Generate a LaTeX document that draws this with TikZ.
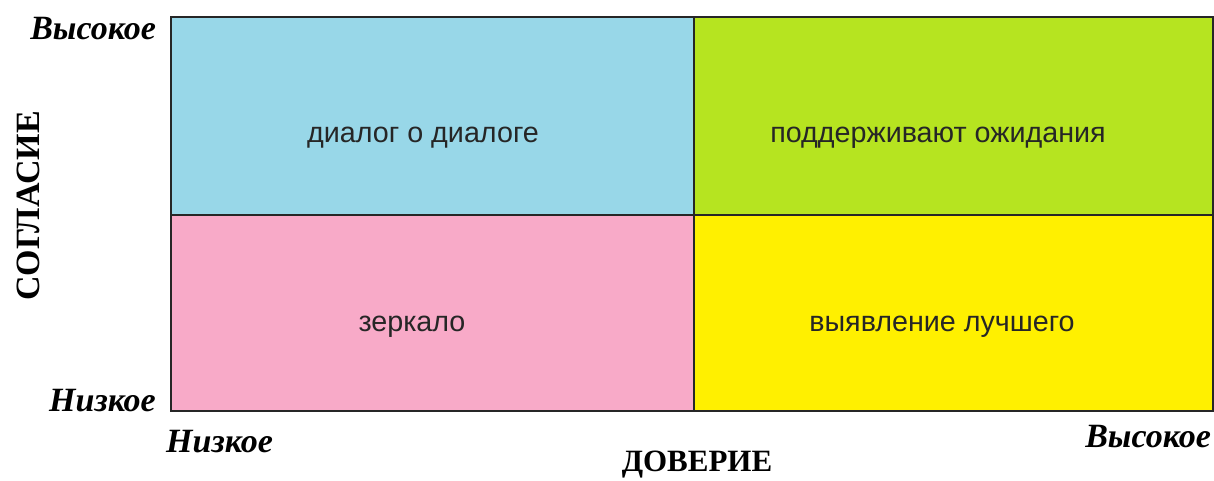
\documentclass[tikz,border=0pt]{standalone}
\usepackage{fontspec}
\setmainfont{Liberation Serif}
\newfontfamily\quadfont{Liberation Sans}
\begin{document}
\begin{tikzpicture}[x=1pt,y=-1pt,
  quad/.style={draw=black!85,line width=1.8pt,minimum width=#1,minimum height=198pt,inner sep=0pt,anchor=north west},
  qtext/.style={font=\quadfont\fontsize{28.7}{32}\selectfont,text=black!85},
  level/.style={font=\bfseries\itshape\fontsize{34}{38}\selectfont,inner sep=0pt},
  axis/.style={font=\bfseries\fontsize{31}{34}\selectfont,inner sep=0pt}]
\definecolor{qblue}{RGB}{152,215,232}
\definecolor{qgreen}{RGB}{182,228,32}
\definecolor{qpink}{RGB}{248,170,200}
\definecolor{qyellow}{RGB}{255,240,0}
\useasboundingbox[fill=white] (0,0) rectangle (1214,481);
\node[quad=523pt,fill=qblue] (tl) at (170,16) {};
\node[quad=519pt,fill=qgreen] (tr) at (693,16) {};
\node[quad=523pt,fill=qpink,minimum height=196pt] (bl) at (170,214) {};
\node[quad=519pt,fill=qyellow,minimum height=196pt] (br) at (693,214) {};
\node[qtext] (t1) at (423,138) {диалог о диалоге};
\node[qtext] (t2) at (938,138) {поддерживают ожидания};
\node[qtext] (t3) at (412,327) {зеркало};
\node[qtext] (t4) at (942,327) {выявление лучшего};
\node[level,anchor=east] (yh) at (156,29) {Высокое};
\node[level,anchor=east] (yl) at (156,401) {Низкое};
\node[level,anchor=west] (xl) at (166,442) {Низкое};
\node[level,anchor=east] (xh) at (1211,437) {Высокое};
\node[axis,rotate=90,font=\bfseries\fontsize{34}{38}\selectfont] (ya) at (28,206) {СОГЛАСИЕ};
\node[axis] (xa) at (697,465) {ДОВЕРИЕ};
\end{tikzpicture}
\end{document}
